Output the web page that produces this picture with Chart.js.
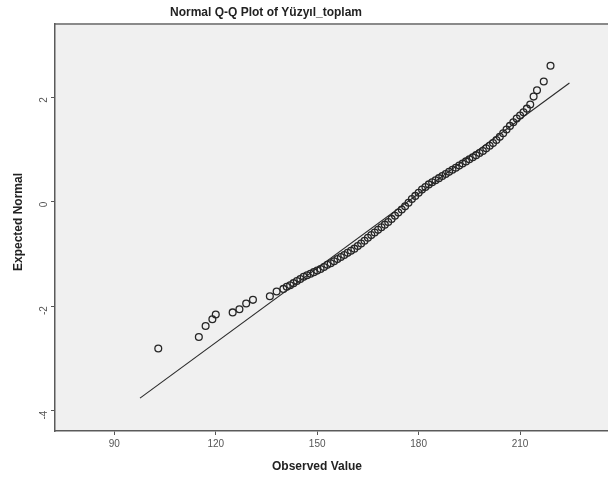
<!DOCTYPE html>
<html>
<head>
<meta charset="utf-8">
<script src="https://cdn.jsdelivr.net/npm/chart.js@4"></script>
<style>
  html, body { margin: 0; padding: 0; background: #fff; }
</style>
</head>
<body>
<canvas id="grafica" width="608" height="482"></canvas>
<script>
const observados = [103, 115, 117, 119, 120, 125, 127, 129, 131, 136, 138, 140,
  141, 142, 143, 144, 145, 146, 147, 148, 149, 150, 151, 152, 153, 154, 155, 156,
  157, 158, 159, 160, 161, 162, 163, 164, 165, 166, 167, 168, 169, 170, 171, 172,
  173, 174, 175, 176, 177, 178, 179, 180, 181, 182, 183, 184, 185, 186, 187, 188,
  189, 190, 191, 192, 193, 194, 195, 196, 197, 198, 199, 200, 201, 202, 203, 204,
  205, 206, 207, 208, 209, 210, 211, 212, 213, 214, 215, 217, 219];
const esperados = [-2.81, -2.59, -2.38, -2.25, -2.16, -2.12, -2.06, -1.95, -1.88, -1.81, -1.72, -1.67,
  -1.63, -1.60, -1.56, -1.52, -1.48, -1.44, -1.41, -1.38, -1.35, -1.32, -1.29, -1.25, -1.21, -1.18, -1.14, -1.10,
  -1.06, -1.02, -0.98, -0.94, -0.90, -0.85, -0.80, -0.75, -0.69, -0.64, -0.59, -0.54, -0.49, -0.44, -0.39, -0.33,
  -0.27, -0.21, -0.15, -0.09, -0.02, 0.05, 0.11, 0.17, 0.23, 0.28, 0.33, 0.37, 0.41, 0.45, 0.49, 0.53,
  0.57, 0.61, 0.65, 0.69, 0.73, 0.77, 0.81, 0.85, 0.89, 0.93, 0.97, 1.02, 1.07, 1.12, 1.18, 1.24,
  1.31, 1.38, 1.45, 1.52, 1.59, 1.65, 1.71, 1.78, 1.86, 2.01, 2.13, 2.30, 2.60];

// extremos de la recta de referencia
const rectaX = [97.6, 224.6];
const rectaY = [-3.76, 2.27];

const ticksX = [90, 120, 150, 180, 210];
const ticksY = [-4, -2, 0, 2];

const titulo = "Normal Q-Q Plot of Yüzyıl_toplam";
const tituloX = "Observed Value";
const tituloY = "Expected Normal";

const FUENTE = "'Liberation Sans', Arial, sans-serif";

const fondo = {
  id: "fondo",
  beforeDraw(chart) {
    const { ctx, chartArea: a } = chart;
    ctx.save();
    ctx.fillStyle = "#fff";
    ctx.fillRect(0, 0, chart.width, chart.height);
    ctx.fillStyle = "#f0f0f0";
    ctx.fillRect(a.left, a.top, a.right - a.left, a.bottom - a.top);
    ctx.strokeStyle = "#8a8a8a";
    ctx.lineWidth = 2;
    ctx.beginPath();
    ctx.moveTo(a.left, a.top);
    ctx.lineTo(a.right, a.top);
    ctx.stroke();
    ctx.restore();
  },
  afterDraw(chart) {
    const { ctx } = chart;
    ctx.save();
    ctx.fillStyle = "#222";
    ctx.font = "bold 12px " + FUENTE;
    ctx.textAlign = "center";
    ctx.textBaseline = "middle";
    ctx.fillText(titulo, 266, 13);
    ctx.fillText(tituloX, 317, 467);
    ctx.translate(19, 222);
    ctx.rotate(-Math.PI / 2);
    ctx.fillText(tituloY, 0, 0);
    ctx.restore();
  }
};

const ctx = document.getElementById("grafica");

new Chart(ctx, {
  type: "scatter",
  data: {
    datasets: [
      {
        label: "puntos",
        data: observados.map((x, i) => ({ x: x, y: esperados[i] })),
        showLine: false,
        pointRadius: 3.4,
        pointBorderWidth: 1.3,
        borderColor: "#262626",
        backgroundColor: "rgba(0,0,0,0)",
        order: 1
      },
      {
        label: "recta",
        data: rectaX.map((x, i) => ({ x: x, y: rectaY[i] })),
        showLine: true,
        pointRadius: 0,
        borderWidth: 1.1,
        borderColor: "#2a2a2a",
        order: 2
      }
    ]
  },
  options: {
    responsive: false,
    animation: false,
    layout: { autoPadding: false, padding: { top: 24, right: 0, left: 0, bottom: 0 } },
    plugins: {
      legend: { display: false },
      tooltip: { enabled: false }
    },
    scales: {
      x: {
        type: "linear",
        min: 72.46,
        max: 236.0,
        afterBuildTicks: s => { s.ticks = ticksX.map(v => ({ value: v })); },
        afterFit: s => { s.height = 51; s.paddingLeft = 0; s.paddingRight = 0; },
        grid: { drawOnChartArea: false, drawTicks: true, tickLength: 4, color: "#555" },
        border: { display: true, color: "#5a5a5a", width: 1.5 },
        ticks: {
          font: { family: FUENTE, size: 10 },
          color: "#555",
          padding: 3,
          maxRotation: 0,
          minRotation: 0
        }
      },
      y: {
        type: "linear",
        min: -4.39,
        max: 3.40,
        afterBuildTicks: s => { s.ticks = ticksY.map(v => ({ value: v })); },
        afterFit: s => { s.width = 55; s.paddingTop = 0; s.paddingBottom = 0; },
        grid: { drawOnChartArea: false, drawTicks: true, tickLength: 4, color: "#555" },
        border: { display: true, color: "#5a5a5a", width: 1.5 },
        ticks: {
          font: { family: FUENTE, size: 10 },
          color: "#555",
          padding: 7,
          minRotation: 90,
          maxRotation: 90
        }
      }
    }
  },
  plugins: [fondo]
});
</script>
</body>
</html>
